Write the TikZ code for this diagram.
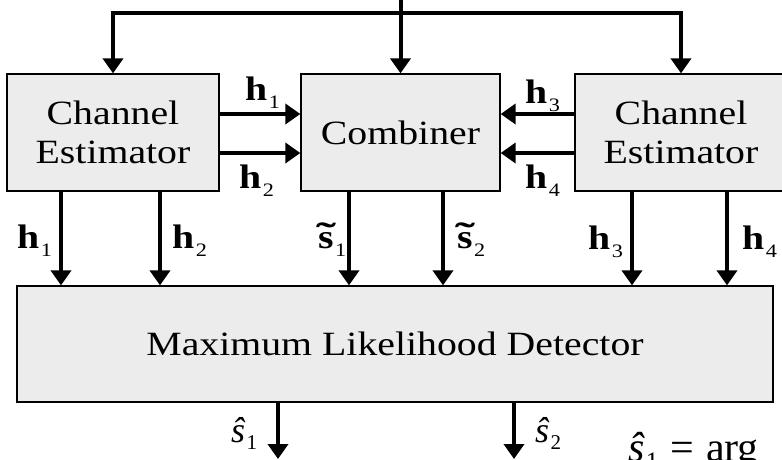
\documentclass[tikz,border=0pt]{standalone}
\usepackage{fontspec}
\setmainfont{Liberation Serif}[FakeStretch=1.17]
\newfontfamily\mathlike{Liberation Serif}
\usetikzlibrary{arrows.meta}
\definecolor{boxfill}{RGB}{236,236,236}
\tikzset{
 blk/.style={draw=black, line width=1.3pt, fill=boxfill, inner sep=0pt, align=center, font=\fontsize{34}{39}\selectfont},
 arr/.style={line width=4pt, line join=miter, -{Triangle[width=20pt,length=15pt]}},
 lab/.style={font=\fontsize{34}{39}\selectfont\bfseries, inner sep=0pt, anchor=base west},
 mlab/.style={font=\mathlike\fontsize{36}{36}\selectfont, inner sep=0pt, anchor=base west},
}
\newcommand{\lbl}[2]{\textbf{#1}\kern1.5pt\raisebox{-8pt}{\fontsize{19}{19}\selectfont\mdseries #2}}
\newcommand{\tls}{\ooalign{s\cr\hidewidth\raisebox{2pt}{\scalebox{1.5}[1]{\char"02DC}}\hidewidth\cr}}
\newcommand{\hs}[1]{\textit{\^{s}}\kern1pt\raisebox{-7pt}{\fontsize{21}{21}\selectfont #1}}
\begin{document}
\begin{tikzpicture}[x=1pt,y=-1pt]
\useasboundingbox (0,0) rectangle (782,459);
\clip (0,0) rectangle (782,459);
\node[blk, minimum width=212pt, minimum height=117pt] (lce) at (113,132.5) {Channel\\Estimator};
\node[blk, minimum width=199pt, minimum height=117pt] (comb) at (400.5,132.5) {Combiner};
\node[blk, minimum width=212pt, minimum height=117pt] (rce) at (681,132.5) {Channel\\Estimator};
\node[blk, minimum width=756pt, minimum height=116pt] (det) at (395,344) {Maximum Likelihood Detector};
% input distribution
\coordinate (in) at (400.5,-3);
\coordinate (j) at (400.5,13);
\draw[arr] (j) -| (lce.north);
\draw[arr] (j) -| (rce.north);
\draw[arr] (in) -- (comb.north);
% channel estimates to combiner
\draw[arr] ([yshift=18.5pt]lce.east) -- ([yshift=18.5pt]comb.west);
\draw[arr] ([yshift=-20.5pt]lce.east) -- ([yshift=-20.5pt]comb.west);
\draw[arr] ([yshift=18.5pt]rce.west) -- ([yshift=18.5pt]comb.east);
\draw[arr] ([yshift=-20.5pt]rce.west) -- ([yshift=-20.5pt]comb.east);
% down to detector
\draw[arr] (lce.south -| 61,0) -- (det.north -| 61,0);
\draw[arr] (lce.south -| 160,0) -- (det.north -| 160,0);
\draw[arr] (comb.south -| 349,0) -- (det.north -| 349,0);
\draw[arr] (comb.south -| 443,0) -- (det.north -| 443,0);
\draw[arr] (rce.south -| 632,0) -- (det.north -| 632,0);
\draw[arr] (rce.south -| 727,0) -- (det.north -| 727,0);
% outputs
\coordinate (o1) at (278,459);
\coordinate (o2) at (514,459);
\draw[arr] (det.south -| o1) -- (o1);
\draw[arr] (det.south -| o2) -- (o2);
% labels
\node[lab] (th1) at (245,100) {\lbl{h}{1}};
\node[lab] (th2) at (239,188) {\lbl{h}{2}};
\node[lab] (th3) at (525,103) {\lbl{h}{3}};
\node[lab] (th4) at (525,188) {\lbl{h}{4}};
\node[lab] (dh1) at (17,248) {\lbl{h}{1}};
\node[lab] (dh2) at (172,248) {\lbl{h}{2}};
\node[lab] (ds1) at (318,248) {\lbl{\tls}{1}};
\node[lab] (ds2) at (457,248) {\lbl{\tls}{2}};
\node[lab] (dh3) at (588,249) {\lbl{h}{3}};
\node[lab] (dh4) at (742,249) {\lbl{h}{4}};
\node[mlab] (os1) at (231,442) {\hs{1}};
\node[mlab] (os2) at (535,442) {\hs{2}};
\node[mlab, font=\mathlike\fontsize{42}{42}\selectfont] (fm) at (628,461) {\textit{\^{s}}\kern1pt\raisebox{-8pt}{\fontsize{25}{25}\selectfont 1}\hspace{12pt}=\hspace{12pt}arg};
\end{tikzpicture}
\end{document}
